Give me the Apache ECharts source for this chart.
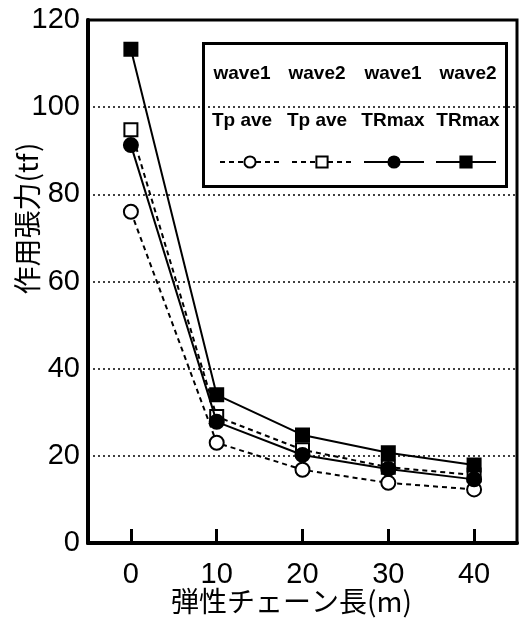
<!DOCTYPE html>
<html>
<head>
<meta charset="utf-8">
<script src="https://cdn.jsdelivr.net/npm/echarts@6/dist/echarts.min.js"></script>
<style>
	body { margin: 0; background: #fff; }
	#chart1 { width: 526px; height: 622px; }
</style>
</head>
<body>
<div id="chart1"></div>

<script>
	// chain length (m)
	const lengths = ['0', '10', '20', '30', '40'];
	// acting tension (tf)
	const wave1_tpave = [76, 23, 16.8, 13.8, 12.3];
	const wave2_tpave = [94.8, 29, 21.4, 17.4, 15.6];
	const wave1_trmax = [91.3, 27.8, 20.2, 17, 14.6];
	const wave2_trmax = [113.3, 34, 24.8, 20.7, 17.9];
	const yTicks = [0, 20, 40, 60, 80, 100, 120];
	const legendTop = ['wave1', 'wave2', 'wave1', 'wave2'];
	const legendBottom = ['Tp ave', 'Tp ave', 'TRmax', 'TRmax'];
	const seriesNames = ['wave1 Tp ave', 'wave2 Tp ave', 'wave1 TRmax', 'wave2 TRmax'];

	const numFont = '"Liberation Sans", Arial, sans-serif';
	const cjkFont = '"Noto Sans CJK JP", sans-serif';

	var chart1 = echarts.init(document.getElementById('chart1'));

	// legend text columns (icons come from the legend component)
	const legendX = [242, 317, 393, 468];
	var legendText = [];
	for (var i = 0; i < 4; i++) {
		legendText.push({
			type: 'text', x: legendX[i], y: 74,
			style: { text: legendTop[i], font: 'bold 19px ' + numFont, fill: '#000', align: 'center', verticalAlign: 'middle' }
		});
		legendText.push({
			type: 'text', x: legendX[i], y: 121,
			style: { text: legendBottom[i], font: 'bold 19px ' + numFont, fill: '#000', align: 'center', verticalAlign: 'middle' }
		});
	}

	function lineSeries(name, data, symbol, filled, dashed) {
		return {
			name: name,
			type: 'line',
			data: data,
			symbol: symbol,
			symbolSize: symbol === 'circle' ? 14 : 13,
			showAllSymbol: true,
			z: filled ? 3 : 2,
			itemStyle: { color: filled ? '#000' : '#fff', borderColor: '#000', borderWidth: 2 },
			lineStyle: { color: '#000', width: 2, type: dashed ? [5, 4] : 'solid' },
			emphasis: { disabled: true }
		};
	}

	var chart1_option = {
		animation: false,
		backgroundColor: '#fff',
		grid: {
			left: 88, right: 9, top: 20, bottom: 79,
			containLabel: false,
			outerBoundsMode: 'none',
			show: true, borderColor: '#000', borderWidth: 3
		},
		legend: {
			left: 214, top: 150,
			itemWidth: 60, itemHeight: 14, itemGap: 10,
			formatter: function () { return ''; },
			data: seriesNames,
			selectedMode: false
		},
		xAxis: [{
			type: 'category',
			boundaryGap: true,
			data: lengths,
			name: '弾性チェーン長(m)',
			nameLocation: 'middle',
			nameGap: 44,
			nameMoveOverlap: false,
			nameTextStyle: { fontFamily: cjkFont, fontSize: 28, color: '#000', padding: [0, 22, 0, 0] },
			axisLine: { lineStyle: { color: '#000', width: 4 } },
			axisTick: { show: true, interval: 0, alignWithLabel: true, inside: true, length: 14, lineStyle: { color: '#000', width: 3 } },
			axisLabel: { fontFamily: numFont, fontSize: 29, color: '#000', margin: 17 },
			z: 5
		}],
		yAxis: [{
			type: 'value',
			min: yTicks[0], max: yTicks[yTicks.length - 1], interval: 20,
			name: '作用張力(tf)',
			nameLocation: 'middle',
			nameRotate: 90,
			nameGap: 47,
			nameMoveOverlap: false,
			nameTextStyle: { fontFamily: cjkFont, fontSize: 28, color: '#000', padding: [0, 0, 0, 126] },
			axisLine: { show: true, lineStyle: { color: '#000', width: 4 } },
			axisTick: { show: false },
			axisLabel: { fontFamily: numFont, fontSize: 29, color: '#000', margin: 8 },
			splitLine: { lineStyle: { color: '#000', width: 1.5, type: [2, 3] } }
		}],
		graphic: [{
			type: 'rect', left: 202, top: 42,
			shape: { width: 303, height: 143 },
			style: { fill: '#fff', stroke: '#000', lineWidth: 3 },
			z: 0
		}].concat(legendText),
		series: [
			lineSeries(seriesNames[0], wave1_tpave, 'circle', false, true),
			lineSeries(seriesNames[1], wave2_tpave, 'rect', false, true),
			lineSeries(seriesNames[2], wave1_trmax, 'circle', true, false),
			lineSeries(seriesNames[3], wave2_trmax, 'rect', true, false)
		]
	};

	chart1.setOption(chart1_option);
</script>
</body>
</html>
